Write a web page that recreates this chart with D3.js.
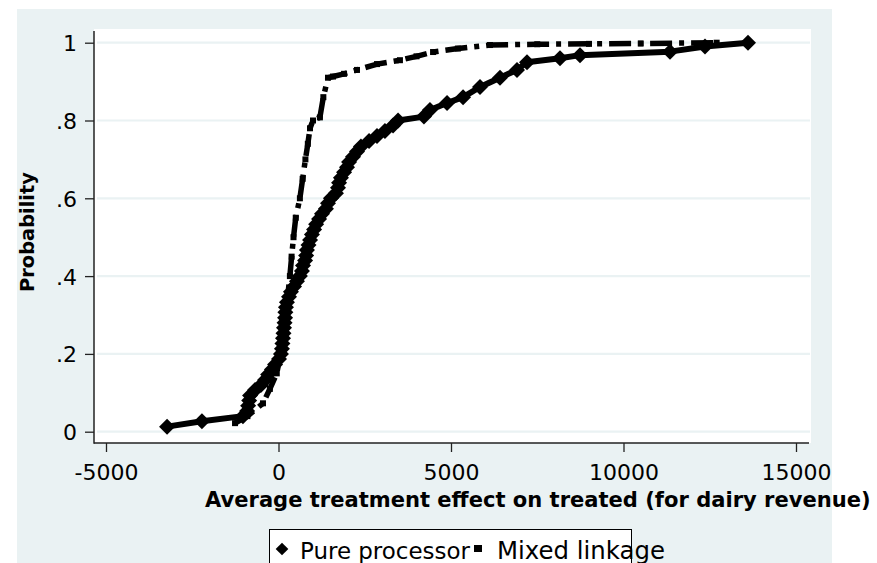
<!DOCTYPE html>
<html>
<head>
<meta charset="utf-8">
<script src="https://cdn.jsdelivr.net/npm/d3@7"></script>
<style>
  body { margin: 0; background: #fff; }
  svg { display: block; }
</style>
</head>
<body>
<div class="canvas"></div>
<script>
// values (effect, cumulative probability)
const pureEffect = [-3230, -2220, -1030, -910, -880, -850, -825, -680, -510, -390,
    -300, -190, -100, 15, 70, 100, 115, 130, 145, 160,
    175, 190, 200, 215, 245, 305, 360, 450, 535, 620,
    680, 710, 770, 800, 825, 870, 915, 970, 1030, 1090,
    1175, 1260, 1375, 1435, 1520, 1665, 1725, 1755, 1810, 1900,
    1985, 2045, 2160, 2275, 2390, 2625, 2855, 3085, 3320, 3465,
    4215, 4390, 4885, 5350, 5841, 6420, 6913, 7203, 8159, 8739,
    11348, 12362, 13609];
const pureProb = [0.013, 0.027, 0.040, 0.053, 0.067, 0.080, 0.093, 0.107, 0.120, 0.133,
    0.147, 0.160, 0.173, 0.187, 0.200, 0.213, 0.227, 0.240, 0.253, 0.267,
    0.280, 0.293, 0.307, 0.320, 0.333, 0.347, 0.360, 0.373, 0.387, 0.400,
    0.413, 0.427, 0.440, 0.453, 0.467, 0.480, 0.493, 0.507, 0.520, 0.533,
    0.547, 0.560, 0.573, 0.587, 0.600, 0.613, 0.627, 0.640, 0.653, 0.667,
    0.680, 0.693, 0.707, 0.720, 0.733, 0.747, 0.760, 0.773, 0.787, 0.800,
    0.810, 0.827, 0.845, 0.860, 0.886, 0.910, 0.930, 0.950, 0.960, 0.968,
    0.977, 0.990, 1.000];

const mixedEffect = [-1260, -900, -450, -250, -50, 60, 130, 200, 270, 330,
    380, 435, 500, 620, 700, 780, 850, 913, 1000, 1200,
    1300, 1435, 1580, 1900, 2275, 2855, 3520, 4000, 4480, 5200,
    6130, 7500, 9000, 10500, 12700];
const mixedProb = [0.022, 0.040, 0.073, 0.110, 0.150, 0.200, 0.250, 0.300, 0.350, 0.400,
    0.450, 0.500, 0.550, 0.600, 0.650, 0.700, 0.740, 0.780, 0.800, 0.808,
    0.860, 0.910, 0.913, 0.920, 0.930, 0.945, 0.955, 0.965, 0.976, 0.985,
    0.994, 0.996, 0.997, 0.998, 1.000];

const xTicks = [-5000, 0, 5000, 10000, 15000];
const yTicks = [0, 0.2, 0.4, 0.6, 0.8, 1];
const yTickLabels = ['0', '.2', '.4', '.6', '.8', '1'];
const seriesNames = ['Pure processor', 'Mixed linkage'];

const width = 877, height = 563;
const bg = '#eaf2f3';
const font = '"DejaVu Sans", sans-serif';

const svg = d3.select('.canvas')
    .append('svg')
    .attr('width', width)
    .attr('height', height);

// outer graph region
svg.append('rect')
    .attr('x', 17).attr('y', 9)
    .attr('width', 815).attr('height', height - 9)
    .attr('fill', bg);

// plot region
svg.append('rect')
    .attr('x', 94).attr('y', 29)
    .attr('width', 717).attr('height', 414)
    .attr('fill', '#fff');

const x = d3.scaleLinear().domain([-5000, 15000]).range([106, 796]);
const y = d3.scaleLinear().domain([0, 1]).range([431.7, 42.7]);

// grid lines
svg.append('g')
    .selectAll('line')
    .data(yTicks)
    .enter()
    .append('line')
        .attr('x1', 97).attr('x2', 810)
        .attr('y1', d => y(d)).attr('y2', d => y(d))
        .attr('stroke', bg)
        .attr('stroke-width', 2.2);

// axes
const xAxisGroup = svg.append('g')
    .attr('transform', 'translate(0, 443)')
    .call(d3.axisBottom(x).tickValues(xTicks).tickSize(9).tickSizeOuter(0).tickPadding(12).tickFormat(d => d));
const yAxisGroup = svg.append('g')
    .attr('transform', 'translate(94, 0)')
    .call(d3.axisLeft(y).tickValues(yTicks).tickSize(9).tickSizeOuter(0).tickPadding(8)
        .tickFormat((d, i) => yTickLabels[i]));

[xAxisGroup, yAxisGroup].forEach(g => {
    g.select('.domain').remove();
    g.selectAll('line').attr('stroke', '#222').attr('stroke-width', 1.3);
    g.selectAll('text')
        .attr('fill', '#000')
        .style('font-family', font)
        .style('font-size', '22px');
});
xAxisGroup.selectAll('text').attr('dy', '0.71em');
yAxisGroup.selectAll('text').attr('dy', '0.36em');

svg.append('line')
    .attr('x1', 94).attr('x2', 809).attr('y1', 443).attr('y2', 443)
    .attr('stroke', '#222').attr('stroke-width', 1.5);
svg.append('line')
    .attr('x1', 94).attr('x2', 94).attr('y1', 31).attr('y2', 443.7)
    .attr('stroke', '#222').attr('stroke-width', 1.5);

// series
const pure = pureEffect.map((v, i) => ({ v, p: pureProb[i] }));
const mixed = mixedEffect.map((v, i) => ({ v, p: mixedProb[i] }));

const line = d3.line().x(d => x(d.v)).y(d => y(d.p));

svg.append('path')
    .datum(pure)
    .attr('d', line)
    .attr('fill', 'none')
    .attr('stroke', '#000')
    .attr('stroke-width', 6)
    .attr('stroke-linejoin', 'round');

svg.append('g')
    .selectAll('path')
    .data(pure)
    .enter()
    .append('path')
        .attr('d', d3.symbol(d3.symbolSquare, 128))
        .attr('transform', d => `translate(${x(d.v)}, ${y(d.p)}) rotate(45)`)
        .attr('fill', '#000');

svg.append('path')
    .datum(mixed)
    .attr('d', line)
    .attr('fill', 'none')
    .attr('stroke', '#000')
    .attr('stroke-width', 5.5)
    .attr('stroke-dasharray', '22,7,5,7');

svg.append('g')
    .selectAll('rect')
    .data(mixed)
    .enter()
    .append('rect')
        .attr('x', d => x(d.v) - 3)
        .attr('y', d => y(d.p) - 3)
        .attr('width', 6).attr('height', 6)
        .attr('fill', '#000');

// scale a text so it spans a measured width
const fitWidth = (sel, w) => {
    const len = sel.node().getComputedTextLength();
    const fs = parseFloat(sel.style('font-size'));
    sel.style('font-size', (fs * w / len) + 'px');
};

// axis titles
const xTitle = svg.append('text')
    .attr('x', 205).attr('y', 507)
    .style('font-family', font).style('font-weight', 'bold').style('font-size', '20px')
    .text('Average treatment effect on treated (for dairy revenue)');
fitWidth(xTitle, 666);

const yTitle = svg.append('text')
    .attr('transform', 'translate(34, 232) rotate(-90)')
    .attr('text-anchor', 'middle')
    .style('font-family', font).style('font-weight', 'bold').style('font-size', '20px')
    .text('Probability');
fitWidth(yTitle, 120);

// legend
svg.append('rect')
    .attr('x', 269.5).attr('y', 529.5)
    .attr('width', 362).attr('height', 50)
    .attr('fill', '#fff')
    .attr('stroke', '#000').attr('stroke-width', 1);

svg.append('path')
    .attr('d', d3.symbol(d3.symbolSquare, 80))
    .attr('transform', 'translate(282, 549) rotate(45)')
    .attr('fill', '#000');
svg.append('rect')
    .attr('x', 474).attr('y', 545).attr('width', 8).attr('height', 7)
    .attr('fill', '#000');

const leg1 = svg.append('text')
    .attr('x', 300).attr('y', 559)
    .style('font-family', font).style('font-size', '22px')
    .text(seriesNames[0]);
fitWidth(leg1, 170);
const leg2 = svg.append('text')
    .attr('x', 497).attr('y', 559)
    .style('font-family', font).style('font-size', '22px')
    .text(seriesNames[1]);
fitWidth(leg2, 168);
</script>
</body>
</html>
